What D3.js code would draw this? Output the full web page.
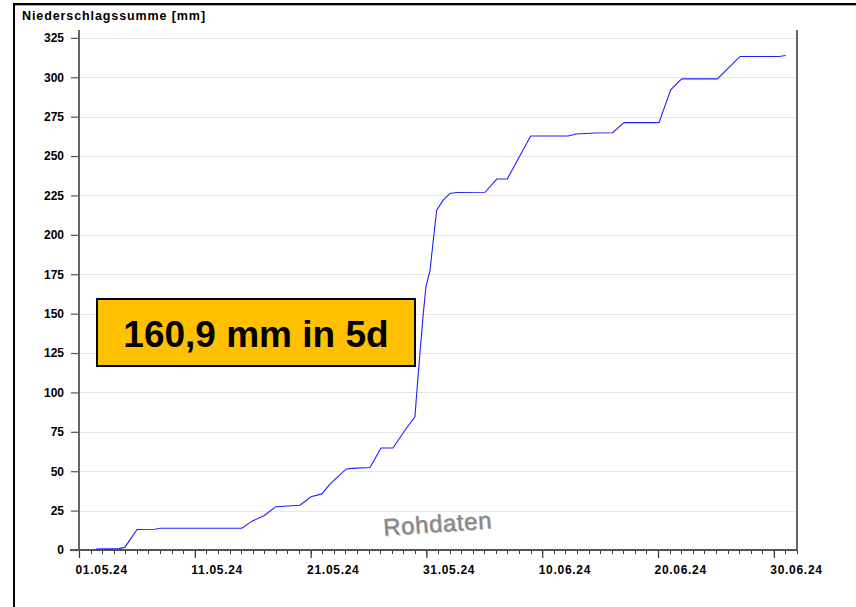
<!DOCTYPE html>
<html>
<head>
<meta charset="utf-8">
<script src="https://cdn.jsdelivr.net/npm/d3@7"></script>
<style>
  html, body { margin: 0; padding: 0; background: #fff; }
  svg { display: block; }
  text { font-family: "Liberation Sans", Arial, sans-serif; }
</style>
</head>
<body>
<svg id="chart" width="856" height="607"></svg>
<script>
// ---- data ----
const times = [
  "2024-05-02 11:00", "2024-05-04 11:30", "2024-05-04 23:15", "2024-05-06 00:15",
  "2024-05-07 13:30", "2024-05-08 00:00", "2024-05-15 01:30", "2024-05-15 22:30",
  "2024-05-16 23:15", "2024-05-18 00:00", "2024-05-20 02:00", "2024-05-21 00:45",
  "2024-05-21 23:30", "2024-05-22 16:00", "2024-05-24 01:15", "2024-05-24 13:45",
  "2024-05-26 03:00", "2024-05-27 02:00", "2024-05-28 02:45", "2024-05-29 03:30",
  "2024-05-30 00:15", "2024-05-30 03:45", "2024-05-30 10:30", "2024-05-30 17:30",
  "2024-05-30 23:00", "2024-05-31 07:30", "2024-05-31 14:15", "2024-05-31 21:15",
  "2024-06-01 10:45", "2024-06-02 00:45", "2024-06-02 14:45", "2024-06-05 01:30",
  "2024-06-06 01:45", "2024-06-06 23:30", "2024-06-09 00:00", "2024-06-12 06:00",
  "2024-06-12 22:00", "2024-06-14 13:30", "2024-06-16 02:00", "2024-06-17 01:30",
  "2024-06-20 02:00", "2024-06-21 02:15", "2024-06-22 01:00", "2024-06-25 03:00",
  "2024-06-27 02:00", "2024-06-30 11:15", "2024-07-01 00:30"
];
const values = [
  0.6, 0.9, 1.8, 13.0,
  13.2, 13.8, 13.8, 18.3,
  21.7, 27.5, 28.4, 33.8,
  35.6, 41.8, 51.3, 51.8,
  52.4, 64.7, 64.7, 76.0,
  84.5, 99.0, 124.5, 150.0,
  167.0, 177.5, 196.6, 215.6,
  222.0, 226.3, 226.9, 227.0,
  235.4, 235.4, 262.7, 262.7,
  264.0, 264.6, 264.8, 271.2,
  271.2, 292.0, 299.0, 299.0,
  313.2, 313.2, 313.8
];
const yTicks = [0, 25, 50, 75, 100, 125, 150, 175, 200, 225, 250, 275, 300, 325];
const xTickDates = ["2024-05-01", "2024-05-11", "2024-05-21", "2024-05-31", "2024-06-10", "2024-06-20", "2024-06-30"];
const xDomain = ["2024-05-01", "2024-07-02"];
const yDomain = [0, 330];
const yTitle = "Niederschlagssumme [mm]";
const boxLabel = "160,9 mm in 5d";
const watermark = "Rohdaten";

// ---- drawing ----
(function () {
const parseT = d3.timeParse("%Y-%m-%d %H:%M");
const parseD = d3.timeParse("%Y-%m-%d");
const fmt = d3.timeFormat("%d.%m.%y");
const data = times.map((t, i) => ({ t: parseT(t), v: values[i] }));

const svg = d3.select("#chart");
const pL = 79, pR = 797, pT = 30, pB = 550;

const x = d3.scaleTime().domain(xDomain.map(parseD)).range([pL, pR]);
const y = d3.scaleLinear().domain(yDomain).range([pB, pT]);

// outer frame
svg.append("line").attr("x1", 14).attr("x2", 856).attr("y1", 4).attr("y2", 4)
  .attr("stroke", "#000").attr("stroke-width", 2);
svg.append("line").attr("x1", 15).attr("x2", 856).attr("y1", 5.5).attr("y2", 5.5)
  .attr("stroke", "#aaa").attr("stroke-width", 1);
svg.append("line").attr("x1", 14).attr("x2", 14).attr("y1", 3).attr("y2", 607)
  .attr("stroke", "#000").attr("stroke-width", 2);

// title
svg.append("text").attr("x", 22).attr("y", 19.5)
  .attr("font-size", 12.5).attr("font-weight", "bold")
  .attr("letter-spacing", 0.9)
  .text(yTitle);

// grid
svg.append("g").selectAll("line").data(yTicks.filter(d => d > 0)).join("line")
  .attr("x1", pL).attr("x2", pR)
  .attr("y1", d => Math.round(y(d)) + 0.5).attr("y2", d => Math.round(y(d)) + 0.5)
  .attr("stroke", "#e6e6e6").attr("stroke-width", 1);

// y axis
const yAxis = d3.axisLeft(y).tickValues(yTicks).tickSize(8).tickPadding(7).tickFormat(d3.format("d"));
const gy = svg.append("g").attr("transform", `translate(${pL},0)`).call(yAxis);
gy.select(".domain").remove();
gy.selectAll(".tick line").attr("stroke", "#555").attr("stroke-width", 1.2);
gy.selectAll(".tick text").attr("font-size", 12).attr("font-weight", "bold")
  .attr("font-family", "Liberation Sans, Arial, sans-serif").attr("fill", "#000");

// minor x ticks (daily)
const days = d3.timeDay.range(x.domain()[0], d3.timeDay.offset(x.domain()[1], 1));
svg.append("g").selectAll("line").data(days).join("line")
  .attr("x1", d => Math.round(x(d)) + 0.5).attr("x2", d => Math.round(x(d)) + 0.5)
  .attr("y1", pB).attr("y2", pB + 4)
  .attr("stroke", "#333").attr("stroke-width", 1);

// major x ticks
const xAxis = d3.axisBottom(x).tickValues(xTickDates.map(parseD)).tickSize(8).tickPadding(7).tickFormat(fmt);
const gx = svg.append("g").attr("transform", `translate(0,${pB})`).call(xAxis);
gx.select(".domain").remove();
gx.selectAll(".tick line").attr("stroke", "#333").attr("stroke-width", 1.2);
gx.selectAll(".tick text").attr("font-size", 12).attr("font-weight", "bold")
  .attr("letter-spacing", 0.7)
  .attr("font-family", "Liberation Sans, Arial, sans-serif").attr("fill", "#000")
  .attr("text-anchor", "start").attr("dx", -4);

// axis lines
svg.append("line").attr("x1", pL).attr("x2", pL).attr("y1", pT).attr("y2", pB + 1)
  .attr("stroke", "#666").attr("stroke-width", 2);
svg.append("line").attr("x1", pR).attr("x2", pR).attr("y1", pT).attr("y2", pB + 1)
  .attr("stroke", "#666").attr("stroke-width", 2);
svg.append("line").attr("x1", pL - 9).attr("x2", pR + 1).attr("y1", pB).attr("y2", pB)
  .attr("stroke", "#555").attr("stroke-width", 2);

// watermark
const wm = svg.append("g").attr("transform", "translate(438,532) rotate(-4)");
wm.append("text").attr("x", 1).attr("y", 1).attr("text-anchor", "middle")
  .attr("font-size", 24).attr("letter-spacing", 0.6).attr("fill", "#d0d0d0").text(watermark);
wm.append("text").attr("text-anchor", "middle")
  .attr("font-size", 24).attr("letter-spacing", 0.6).attr("fill", "#888")
  .attr("stroke", "#888").attr("stroke-width", 0.3).text(watermark);

// line
const line = d3.line().x(d => x(d.t)).y(d => y(d.v));
svg.append("path").datum(data)
  .attr("d", line)
  .attr("fill", "none")
  .attr("stroke", "#2020ff")
  .attr("stroke-width", 1.1);

// annotation box
svg.append("rect").attr("x", 97).attr("y", 299).attr("width", 318).attr("height", 67)
  .attr("fill", "#FFC000").attr("stroke", "#000").attr("stroke-width", 2);
svg.append("text").attr("x", 256).attr("y", 346.5).attr("text-anchor", "middle")
  .attr("font-size", 37).attr("font-weight", "bold").attr("fill", "#000")
  .text(boxLabel);
})();
</script>
</body>
</html>
